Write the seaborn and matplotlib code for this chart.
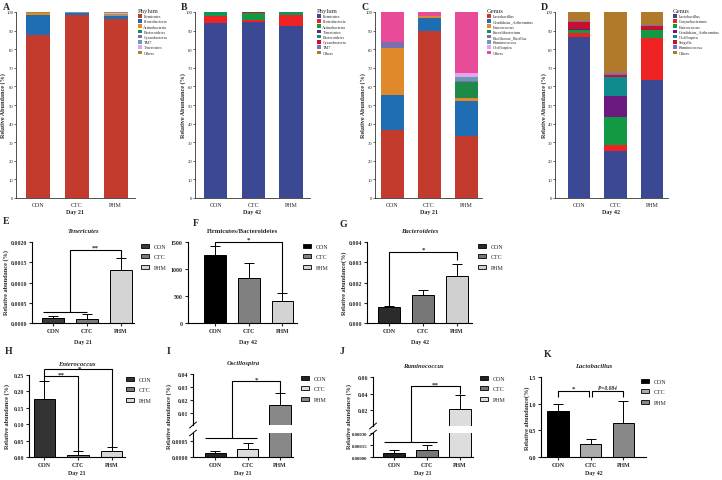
import numpy as np
import pandas as pd
import seaborn as sns
import matplotlib.pyplot as plt
from matplotlib.patches import Patch

groups = ['CON', 'CTC', 'PHM']

# composition data (relative abundance, %)
phylum_d21 = ['Firmicutes', 'Proteobacteria', 'Actinobacteria', 'Bacteroidetes',
              'Cyanobacteria', 'TM7', 'Tenericutes', 'Others']
phylum_d21_con = [87.6, 11.0, 0.6, 0.2, 0.1, 0.2, 0.0, 0.3]
phylum_d21_ctc = [98.4, 0.9, 0.2, 0.1, 0.1, 0.1, 0.0, 0.2]
phylum_d21_phm = [96.5, 1.2, 0.6, 0.2, 0.1, 0.1, 0.6, 0.7]

phylum_d42 = ['Firmicutes', 'Proteobacteria', 'Actinobacteria', 'Tenericutes',
              'Bacteroidetes', 'Cyanobacteria', 'TM7', 'Others']
phylum_d42_con = [94.0, 3.7, 1.6, 0.4, 0.1, 0.1, 0.05, 0.05]
phylum_d42_ctc = [94.5, 1.0, 3.9, 0.0, 0.1, 0.5, 0.0, 0.0]
phylum_d42_phm = [92.3, 6.3, 0.9, 0.1, 0.3, 0.05, 0.0, 0.05]

genus_d21 = ['Lactobacillus', 'Candidatus_Arthromitus', 'Enterococcus', 'Faecalibacterium',
             'Bacillaceae_Bacillus', 'Ruminococcus', 'Oscillospira', 'Others']
genus_d21_con = [36.5, 19.0, 25.0, 0.2, 3.3, 0.0, 0.0, 16.0]
genus_d21_ctc = [89.6, 7.4, 0.6, 0.2, 0.2, 0.0, 0.0, 2.0]
genus_d21_phm = [33.3, 19.0, 1.5, 8.7, 0.3, 2.2, 2.3, 32.7]

genus_d42 = ['Lactobacillus', 'Corynebacterium', 'Enterococcus', 'Candidatus_Arthromitus',
             'Oscillospira', 'Shigella', 'Ruminococcus', 'Others']
genus_d42_con = [86.3, 2.4, 1.8, 0.1, 0.1, 3.9, 0.4, 5.0]
genus_d42_ctc = [25.5, 3.0, 15.2, 11.2, 9.9, 1.2, 1.0, 33.0]
genus_d42_phm = [63.6, 22.2, 4.4, 0.1, 0.1, 2.0, 0.5, 7.1]

# group means and error (relative abundance, %)
teneri_mean = [0.00013, 0.00011, 0.0013]
teneri_err = [0.00005, 0.0001, 0.0003]
fb_mean = [1259, 833, 407]
fb_err = [167, 278, 150]
bact_mean = [0.00077, 0.00137, 0.0023]
bact_err = [0.00006, 0.00027, 0.0006]
entero_mean = [0.178, 0.007, 0.017]
entero_err = [0.053, 0.011, 0.012]
oscil_mean = [0.00014, 0.00025, 0.016]
oscil_err = [0.00006, 0.00018, 0.009]
rumino_mean = [0.000055, 0.00009, 0.021]
rumino_err = [0.00003, 0.00006, 0.017]
lacto_mean = [0.86, 0.24, 0.63]
lacto_err = [0.14, 0.10, 0.42]

sns.set_theme(style='ticks')
plt.rcParams['font.family'] = ['Liberation Serif', 'DejaVu Serif']

W, H = 722, 481
fig = plt.figure(figsize=(W / 100, H / 100), dpi=100)


def px_axes(left, right, top, bottom):
    ax = fig.add_axes([left / W, 1 - bottom / H, (right - left) / W, (bottom - top) / H])
    ax.set_facecolor('none')
    return ax


def ftext(x, y, s, **kw):
    fig.text(x / W, 1 - y / H, s, **kw)


def stacked(ax, taxa, rows, colors, legend_title, legend_xy, xlim, day):
    df = pd.DataFrame(rows, index=groups, columns=taxa)
    x = np.arange(len(groups))
    bottom = np.zeros(len(groups))
    for t, c in zip(taxa, colors):
        ax.bar(x, df[t].values, bottom=bottom, width=0.62, color=c, linewidth=0)
        bottom += df[t].values
    ax.set_xlim(*xlim)
    ax.set_ylim(0, 100)
    ax.set_yticks(range(0, 101, 10))
    ax.set_xticks(x)
    ax.set_xticklabels(groups, fontsize=4.3)
    ax.tick_params(axis='y', labelsize=3.4, length=1.3, width=0.5, pad=0.6)
    ax.tick_params(axis='x', length=0, pad=3)
    ax.set_xlabel(day, fontsize=4.3, fontweight='bold', labelpad=1.5)
    for s in ['top', 'right']:
        ax.spines[s].set_visible(False)
    for s in ['left', 'bottom']:
        ax.spines[s].set_linewidth(0.6)
        ax.spines[s].set_color('#333333')
    handles = [Patch(facecolor=c, edgecolor='none') for c in colors]
    leg = ax.legend(handles, taxa, title=legend_title, loc='upper left',
                    bbox_to_anchor=(legend_xy[0] / W, 1 - legend_xy[1] / H),
                    bbox_transform=fig.transFigure, frameon=False, fontsize=3.0,
                    title_fontsize=4.8, handlelength=0.9, handleheight=0.9,
                    handletextpad=0.4, labelspacing=0.25, borderpad=0, borderaxespad=0)
    leg._legend_box.align = 'left'


def group_bars(ax, means, errs, colors, ylim, yticks, yticklabels, xlim, title=None,
               italic=True, xlabel=None, legend_xy=None, tick_size=4.2):
    sns.barplot(x=groups, y=means, hue=groups, palette=colors, saturation=1, legend=False,
                errorbar=None, width=0.65, edgecolor='black', linewidth=0.7, ax=ax)
    ax.errorbar(np.arange(3), means, yerr=[np.zeros(3), errs], fmt='none', ecolor='black',
                elinewidth=0.7, capsize=3.5, capthick=0.7)
    ax.set_xlim(*xlim)
    ax.set_ylim(*ylim)
    ax.set_yticks(yticks)
    ax.set_yticklabels(yticklabels, fontsize=tick_size, fontweight='bold')
    ax.set_xticks(range(3))
    ax.set_xticklabels(groups, fontsize=4.2, fontweight='bold')
    ax.tick_params(length=2.2, width=0.8, pad=1.5)
    ax.set_ylabel('')
    for s in ['top', 'right']:
        ax.spines[s].set_visible(False)
    for s in ['left', 'bottom']:
        ax.spines[s].set_linewidth(0.8)
        ax.spines[s].set_color('black')
    if title:
        ax.set_title(title, fontsize=4.8, fontweight='bold',
                     fontstyle='italic' if italic else 'normal', pad=7)
    if xlabel:
        ax.set_xlabel(xlabel, fontsize=4.2, fontweight='bold', labelpad=2)
    else:
        ax.set_xlabel('')
    if legend_xy:
        handles = [Patch(facecolor=c, edgecolor='black', linewidth=0.6) for c in colors]
        ax.legend(handles, groups, loc='upper left',
                  bbox_to_anchor=(legend_xy[0] / W, 1 - legend_xy[1] / H),
                  bbox_transform=fig.transFigure, frameon=False, fontsize=4.3,
                  handlelength=1.4, handleheight=0.7, handletextpad=0.8,
                  labelspacing=0.85, borderpad=0, borderaxespad=0)


def bline(ax, xs, ys):
    ax.plot(xs, ys, color='black', lw=0.8, clip_on=False, solid_capstyle='butt')


def star(ax, x, y, s, **kw):
    ax.text(x, y, s, ha='center', va='bottom', fontsize=5, fontweight='bold', **kw)


# ---------- top row ----------
pal_a = ['#c23b2c', '#1f6db3', '#e8891f', '#1e8a4a', '#7a6fb0', '#6a9ab5', '#e8a0f0', '#a08c2c']
pal_b = ['#3b4994', '#ee2222', '#119944', '#5a2a82', '#0f8b8d', '#c8102e', '#7b6fb8', '#b07a2a']
pal_c = ['#c23b2c', '#1f6db3', '#e0892a', '#1e8a4a', '#7a6fb0', '#6a9ab5', '#e8a0f0', '#e84c98']
pal_d = ['#3b4994', '#ee2222', '#119944', '#6a1b80', '#0f8b8d', '#c8102e', '#7b6fb8', '#b07a2a']

axA = px_axes(16, 135, 13, 199)
stacked(axA, phylum_d21, [phylum_d21_con, phylum_d21_ctc, phylum_d21_phm], pal_a,
        'Phylum', (138, 9), (-0.58, 2.5), 'Day 21')
axB = px_axes(195, 310, 13, 199)
stacked(axB, phylum_d42, [phylum_d42_con, phylum_d42_ctc, phylum_d42_phm], pal_b,
        'Phylum', (317, 9), (-0.55, 2.5), 'Day 42')
axC = px_axes(375, 482, 13, 199)
stacked(axC, genus_d21, [genus_d21_con, genus_d21_ctc, genus_d21_phm], pal_c,
        'Genus', (487, 9), (-0.46, 2.43), 'Day 21')
axD = px_axes(555, 668, 13, 199)
stacked(axD, genus_d42, [genus_d42_con, genus_d42_ctc, genus_d42_phm], pal_d,
        'Genus', (673, 9), (-0.66, 2.44), 'Day 42')

for x in [3, 183, 363, 544]:
    ftext(x, 106, 'Relative Abundance (%)', rotation=90, ha='center', va='center',
          fontsize=4.4, fontweight='bold')

# ---------- middle row ----------
axE = px_axes(32, 134, 243, 324)
group_bars(axE, teneri_mean, teneri_err, ['#3a3a3a', '#7a7a7a', '#d4d4d4'],
           (0, 0.002), [0, 0.0005, 0.001, 0.0015, 0.002],
           ['0.0000', '0.0005', '0.0010', '0.0015', '0.0020'], (-0.62, 2.38),
           title='Tenericutes', legend_xy=(141, 245))
bline(axE, [-0.3, 1.0], [0.00028, 0.00028])
bline(axE, [0.5, 0.5, 2, 2], [0.00028, 0.0018, 0.0018, 0.0016])
star(axE, 1.25, 0.00181, '**')

axF = px_axes(188, 297, 243, 324)
group_bars(axF, fb_mean, fb_err, ['#000000', '#808080', '#d3d3d3'],
           (0, 1500), [0, 500, 1000, 1500], ['0', '500', '1000', '1500'], (-0.8, 2.43),
           title='Firmicutes/Bacteroidetes', italic=False, legend_xy=(303, 245))
bline(axF, [0, 0, 2, 2], [1426, 1500, 1500, 557])
star(axF, 1.0, 1510, '*')

axG = px_axes(367, 472, 243, 324)
group_bars(axG, bact_mean, bact_err, ['#2b2b2b', '#777777', '#d0d0d0'],
           (0, 0.004), [0, 0.001, 0.002, 0.003, 0.004],
           ['0.000', '0.001', '0.002', '0.003', '0.004'], (-0.65, 2.44),
           title='Bacteroidetes', legend_xy=(478, 245))
bline(axG, [0, 0, 2, 2], [0.00085, 0.0035, 0.0035, 0.0031])
star(axG, 1.0, 0.00353, '*')

ftext(6, 283, 'Relative abundance (%)', rotation=90, ha='center', va='center',
      fontsize=4.5, fontweight='bold')
ftext(344, 283, 'Relative abundance(%)', rotation=90, ha='center', va='center',
      fontsize=4.5, fontweight='bold')
ftext(83, 343, 'Day 21', ha='center', va='center', fontsize=4.3, fontweight='bold')
ftext(248, 343, 'Day 42', ha='center', va='center', fontsize=4.3, fontweight='bold')
ftext(420, 343, 'Day 42', ha='center', va='center', fontsize=4.3, fontweight='bold')

# ---------- bottom row ----------
axH = px_axes(29, 125, 376, 458)
group_bars(axH, entero_mean, entero_err, ['#333333', '#777777', '#d8d8d8'],
           (0, 0.25), [0, 0.05, 0.10, 0.15, 0.20, 0.25],
           ['0.00', '0.05', '0.10', '0.15', '0.20', '0.25'], (-0.46, 2.4),
           title='Enterococcus', xlabel='Day 21', legend_xy=(126, 378))
axH.title.set_y(1.16)
bline(axH, [0, 0], [0.231, 0.268])
bline(axH, [0, 1, 1], [0.247, 0.247, 0.019])
bline(axH, [0, 2, 2], [0.268, 0.268, 0.03])
star(axH, 0.5, 0.245, '**')
star(axH, 1.05, 0.264, '*')


def broken(left, right, top, mid_top, mid_bot, bottom, means, errs, colors, up_lim,
           up_ticks, up_labels, lo_lim, lo_ticks, lo_labels, xlim, title, legend_xy,
           lo_size=4.2):
    up = px_axes(left, right, top, mid_top)
    lo = px_axes(left, right, mid_bot, bottom)
    group_bars(lo, means, errs, colors, lo_lim, lo_ticks, lo_labels, xlim,
               xlabel='Day 21', legend_xy=legend_xy, tick_size=lo_size)
    # only the bars that reach the upper segment are drawn there
    up_means = [m if m > up_lim[0] else np.nan for m in means]
    up_errs = [e if m > up_lim[0] else np.nan for m, e in zip(means, errs)]
    group_bars(up, up_means, up_errs, colors, up_lim, up_ticks, up_labels, xlim, title=title)
    up.spines['bottom'].set_visible(False)
    up.set_xticks([])
    # break marks on the y axis
    lo.plot([-0.035, 0.035], [0.88, 1.12], transform=lo.transAxes, color='black',
            lw=0.7, clip_on=False)
    up.plot([-0.035, 0.035], [-0.06, 0.06], transform=up.transAxes, color='black',
            lw=0.7, clip_on=False)
    return up, lo


def lo_to_up(up, lo, x, y):
    disp = lo.transData.transform((x, y))
    return up.transData.inverted().transform(disp)[1]


upI, loI = broken(193, 293, 375, 426, 434, 458, oscil_mean, oscil_err,
                  ['#222222', '#dddddd', '#888888'], (0.0005, 0.04),
                  [0.01, 0.02, 0.03, 0.04], ['0.01', '0.02', '0.03', '0.04'],
                  (0, 0.00075), [0, 0.0005], ['0.0000', '0.0005'], (-0.68, 2.4),
                  'Oscillospira', (301, 377))
yb = lo_to_up(upI, loI, 0, 0.00058)
bline(upI, [-0.3, 1.3], [yb, yb])
bline(upI, [0.52, 0.52, 2, 2], [yb, 0.0345, 0.0345, 0.025])
star(upI, 1.26, 0.0345, '*')

upJ, loJ = broken(373, 473, 378, 427, 434, 458, rumino_mean, rumino_err,
                  ['#222222', '#777777', '#dddddd'], (0.0008, 0.06),
                  [0.02, 0.04, 0.06], ['0.02', '0.04', '0.06'],
                  (0, 0.0003), [0, 0.00015, 0.0003], ['0.00000', '0.00015', '0.00030'],
                  (-0.64, 2.4), 'Ruminococcus', (480, 377), lo_size=3.5)
yb = lo_to_up(upJ, loJ, 0, 0.00019)
bline(upJ, [-0.3, 1.3], [yb, yb])
bline(upJ, [0.5, 0.5, 2, 2], [yb, 0.049, 0.049, 0.039])
star(upJ, 1.25, 0.049, '**')

axK = px_axes(541, 646, 378, 458)
group_bars(axK, lacto_mean, lacto_err, ['#000000', '#aaaaaa', '#888888'],
           (0, 1.5), [0, 0.5, 1.0, 1.5], ['0.0', '0.5', '1.0', '1.5'], (-0.52, 2.7),
           title='Lactobacillus', xlabel='Day 42', legend_xy=(641, 380))
axK.title.set_y(1.12)
bline(axK, [0, 0, 0.95, 0.95], [1.12, 1.24, 1.24, 1.12])
bline(axK, [1.05, 1.05, 2, 2], [1.12, 1.24, 1.24, 1.12])
star(axK, 0.47, 1.25, '*')
axK.text(1.52, 1.25, 'P=0.084', ha='center', va='bottom', fontsize=4,
         fontweight='bold', fontstyle='italic')

for x in [7, 169, 349]:
    ftext(x, 417, 'Relative abundance (%)', rotation=90, ha='center', va='center',
          fontsize=4.5, fontweight='bold')
ftext(527, 418, 'Relative abundance(%)', rotation=90, ha='center', va='center',
      fontsize=4.5, fontweight='bold')

# panel letters
for x, y, s in [(3, 7, 'A'), (181, 7, 'B'), (361, 7, 'C'), (541, 7, 'D'),
                (3, 222, 'E'), (193, 224, 'F'), (339, 225, 'G'),
                (5, 352, 'H'), (167, 352, 'I'), (340, 352, 'J'), (544, 355, 'K')]:
    ftext(x, y, s, ha='left', va='center', fontsize=7, fontweight='bold')

fig.savefig('out.png', dpi=100)
